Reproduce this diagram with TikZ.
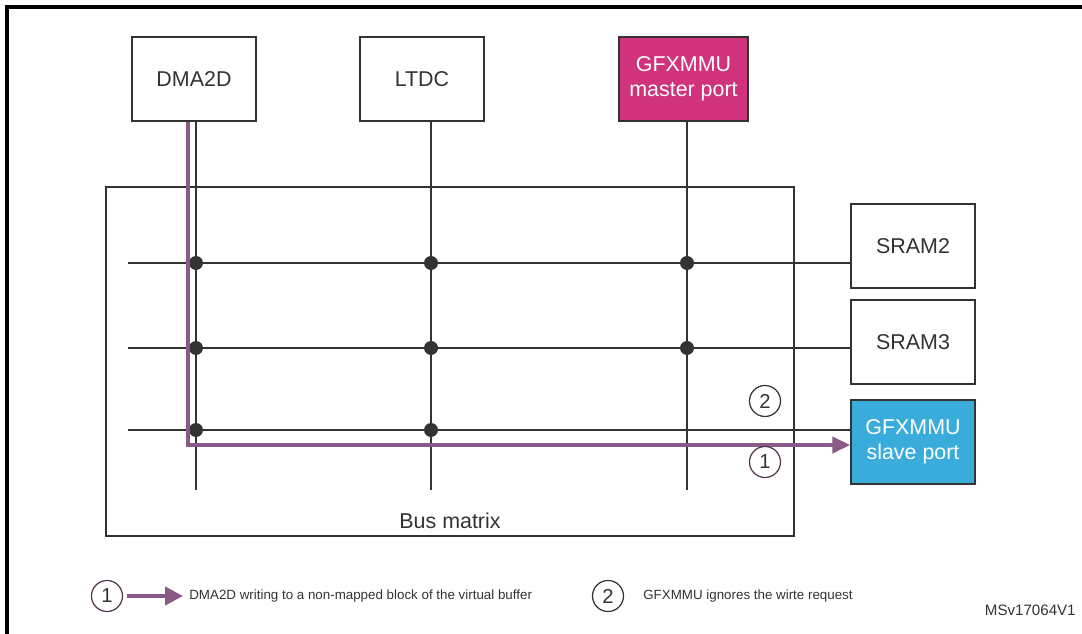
\documentclass[tikz,border=0pt]{standalone}
\usepackage{fontspec}
\setmainfont{Liberation Sans}
\usetikzlibrary{arrows.meta,calc}

\definecolor{gfxpink}{HTML}{D0337B}
\definecolor{gfxblue}{HTML}{3AACDC}
\definecolor{flowpurple}{HTML}{8A5A86}
\definecolor{wire}{HTML}{333333}

\tikzset{
  block/.style={draw=wire,line width=0.8pt,minimum width=2.48cm,minimum height=1.68cm,
    align=center,inner sep=0pt,font=\fontsize{12.2}{14.5}\selectfont,text=wire},
  bus/.style={draw=wire,line width=1.4pt},
  joint/.style={circle,fill=wire,inner sep=0pt,minimum size=0.28cm},
  flow/.style={draw=flowpurple,line width=2.2pt,-{Triangle[length=0.36cm,width=0.32cm]}},
  numtag/.style={circle,draw,line width=0.7pt,minimum size=0.62cm,inner sep=0pt,
    font=\fontsize{11.5}{12}\selectfont,text=wire},
  legend/.style={anchor=west,inner sep=0pt,font=\fontsize{7.6}{9}\selectfont,text=wire}
}

\begin{document}
\begin{tikzpicture}[x=0.02cm,y=-0.02cm]
    \useasboundingbox (0,0) rectangle (1082,634);
    % outer frame, only top and left edges inside the page
    \draw[line width=1.8pt,black] (7,634) -- (7,7) -- (1082,7);

    % masters
    \node[block] (dma) at (194,79) {DMA2D};
    \node[block] (ltdc) at (422,79) {LTDC};
    \node[block,fill=gfxpink,minimum width=2.58cm,text=white] (gmaster) at (683.5,79) {GFXMMU\\master port};

    % slaves
    \node[block] (sram2) at (913,246) {SRAM2};
    \node[block] (sram3) at (913,342) {SRAM3};
    \node[block,fill=gfxblue,text=white] (gslave) at (913,442) {GFXMMU\\slave port};

    % bus matrix
    \draw[line width=1.3pt,draw=wire] (106,187) rectangle (794,536);
    \node[font=\fontsize{12.2}{14}\selectfont,text=wire] (busname) at (450,521) {Bus matrix};

    \coordinate (c1) at (196,490);
    \coordinate (c2) at (431,490);
    \coordinate (c3) at (687,490);
    \coordinate (r1) at (128,263);
    \coordinate (r2) at (128,348);
    \coordinate (r3) at (128,430);

    % master columns
    \draw[bus] (dma.south -| c1) -- (c1);
    \draw[bus] (ltdc.south -| c2) -- (c2);
    \draw[bus] (gmaster.south -| c3) -- (c3);

    % slave rows
    \draw[bus] (r1) -- (r1 -| sram2.west);
    \draw[bus] (r2) -- (r2 -| sram3.west);
    \draw[bus] (r3) -- (r3 -| gslave.west);

    % crossings
    \foreach \r in {r1,r2} {
      \foreach \c in {c1,c2,c3}
        \node[joint] at (\r -| \c) {};
    }
    \node[joint] at (r3 -| c1) {};
    \node[joint] at (r3 -| c2) {};

    % write access from DMA2D
    \coordinate (bend) at (188,445);
    \draw[flow] (dma.south -| bend) -- (bend) -- (bend -| gslave.west);

    \node[numtag,draw=wire] (two) at (765,401) {2};
    \node[numtag,draw=flowpurple!60!black] (one) at (765,462) {1};

    % legend
    \node[numtag,draw=flowpurple!60!black] (lone) at (107,596) {1};
    \coordinate (ltip) at (183,596);
    \draw[flow,line width=2.4pt,-{Triangle[length=0.36cm,width=0.36cm]}] (lone.east) ++(4,0) -- (ltip);
    \node[legend] (ltext) at (189,596) {DMA2D writing to a non-mapped block of the virtual buffer};
    \node[numtag,draw=wire] (ltwo) at (608,596) {2};
    \node[legend] (ltext2) at (643,596) {GFXMMU ignores the wirte request};
    \node[anchor=east,inner sep=0pt,font=\fontsize{8.6}{10}\selectfont,text=wire] (tag) at (1076,610) {MSv17064V1};
\end{tikzpicture}
\end{document}
